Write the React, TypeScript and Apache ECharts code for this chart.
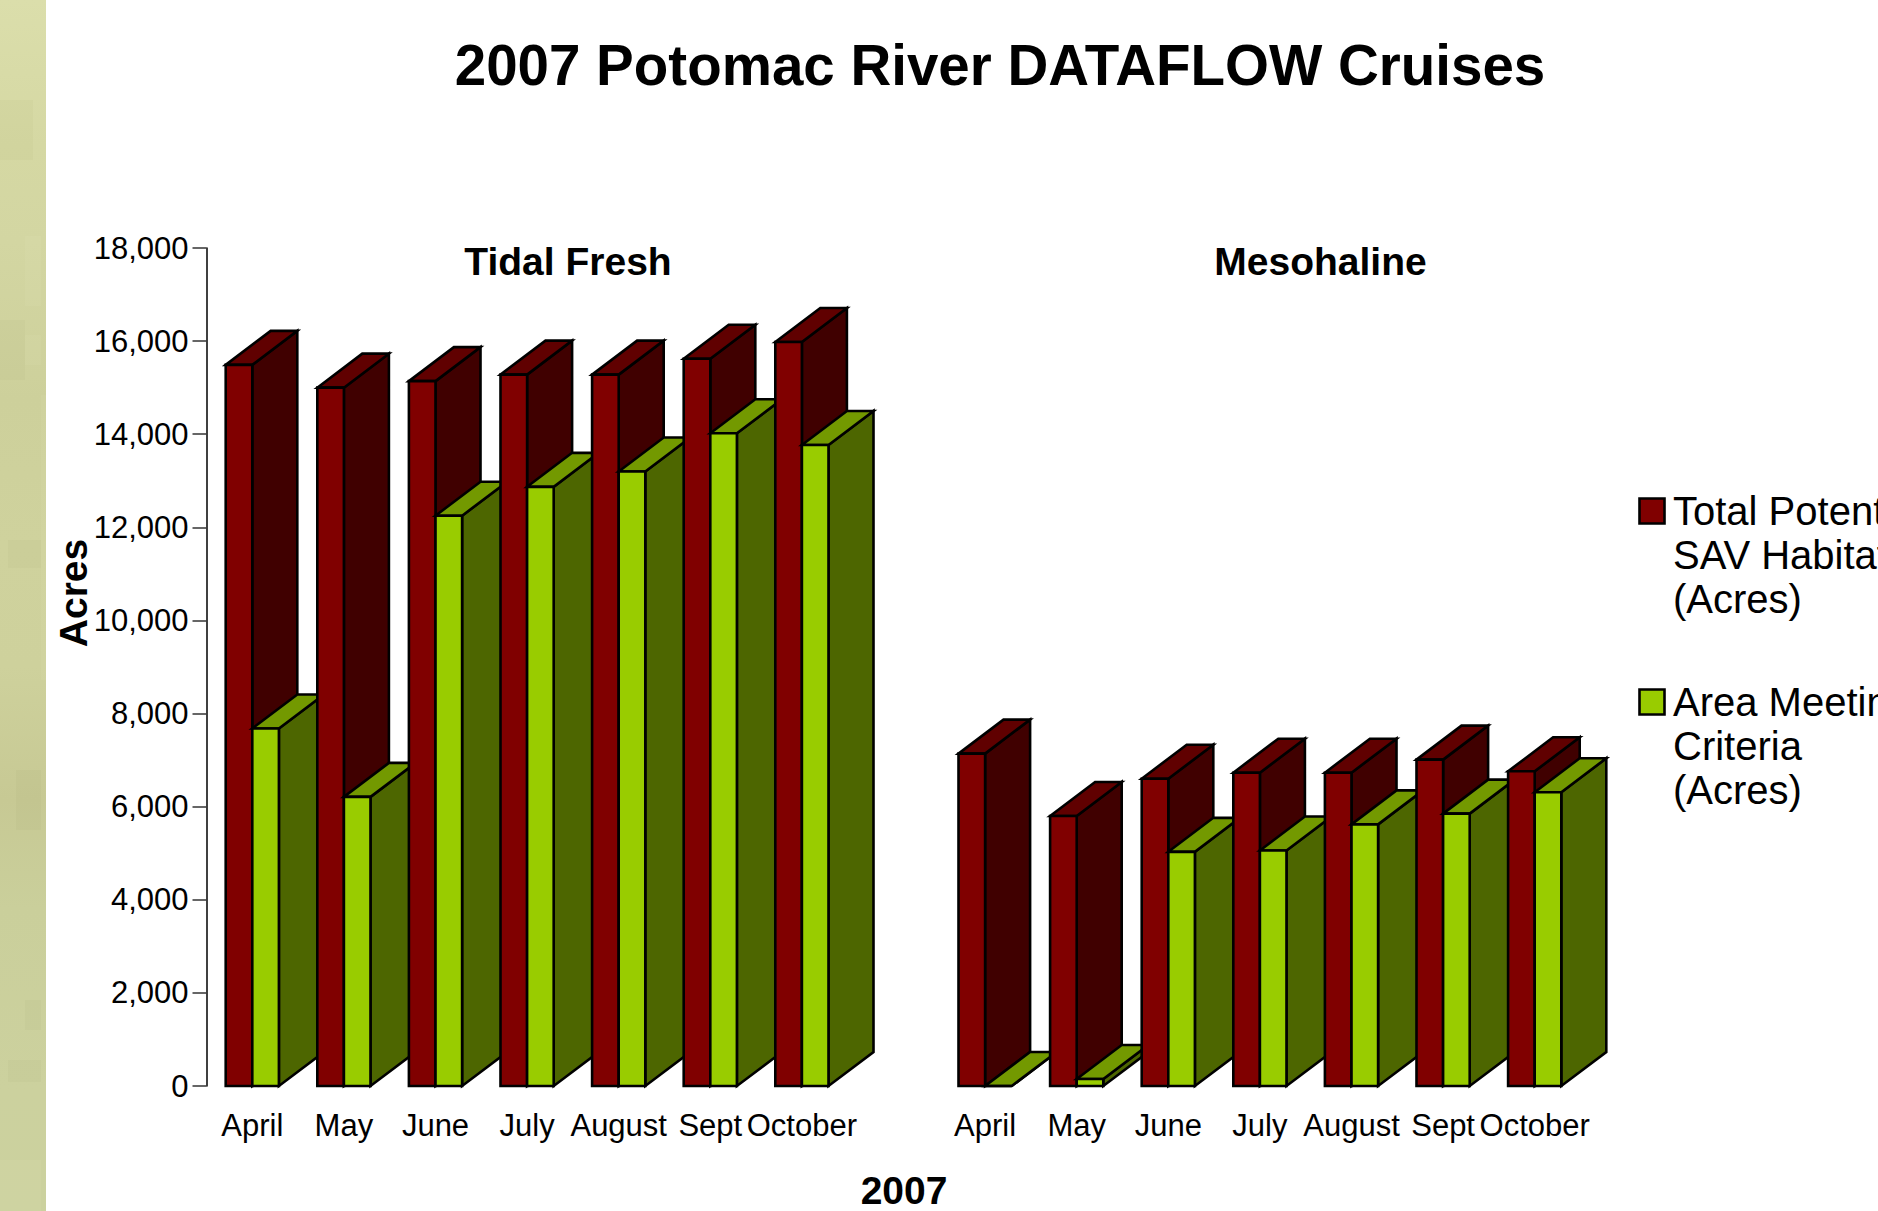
import React, { useEffect, useRef } from "react";
import * as echarts from "echarts";

const months = ["April", "May", "June", "July", "August", "Sept", "October"];
const categories = [...months, "", ...months];
const tickLabelsNote = "2007";

const tidalTotal = [15490, 15000, 15140, 15280, 15280, 15620, 15980];
const tidalMeeting = [7680, 6210, 12250, 12870, 13200, 14020, 13770];
const mesoTotal = [7140, 5800, 6600, 6730, 6730, 7010, 6760];
const mesoMeeting = [0, 150, 5030, 5060, 5620, 5850, 6310];

const totalName = "Total Potential SAV Habitat (Acres)";
const meetingName = "Area Meeting Criteria (Acres)";

const FONT = "'Liberation Sans', Arial, sans-serif";
const BAR_W = 26.6;
const DX = 45;
const DY = 34;

const toRows = (a: number[], b: number[]) => [
  ...a.map((v, i) => [i, v]),
  ...b.map((v, i) => [i + a.length + 1, v]),
];

function bar3d(side: number, front: string, top: string, dark: string) {
  return (params: any, api: any) => {
    const cat = api.value(0);
    const p = api.coord([cat, api.value(1)]);
    const b = api.coord([cat, 0]);
    const x0 = side === 0 ? p[0] - BAR_W : p[0];
    const x1 = x0 + BAR_W;
    const yT = p[1];
    const yB = b[1];
    const z2 = cat * 10 + side * 4;
    const style = { stroke: "#000", lineWidth: 2.6, lineJoin: "miter" };
    const poly = (points: number[][], fill: string, z: number) => ({
      type: "polygon",
      z2: z,
      shape: { points },
      style: { ...style, fill },
    });
    return {
      type: "group",
      children: [
        poly(
          [[x1, yT], [x1 + DX, yT - DY], [x1 + DX, yB - DY], [x1, yB]],
          dark,
          z2
        ),
        poly(
          [[x0, yT], [x0 + DX, yT - DY], [x1 + DX, yT - DY], [x1, yT]],
          top,
          z2 + 1
        ),
        poly([[x0, yT], [x1, yT], [x1, yB], [x0, yB]], front, z2 + 2),
      ],
    };
  };
}

const legendEntry = (y: number, fill: string, lines: string) => [
  {
    type: "rect",
    shape: { x: 1639.5, y, width: 25, height: 25 },
    style: { fill, stroke: "#000", lineWidth: 2.6 },
  },
  {
    type: "text",
    x: 1673,
    y: y - 10,
    style: {
      text: lines,
      fill: "#000",
      font: `40px ${FONT}`,
      lineHeight: 44,
      textAlign: "left",
      textVerticalAlign: "top",
    },
  },
];

// Mottling of the decorative strip: x, y, width, height, colour
const stripPatch = (x: number, y: number, width: number, height: number, fill: string) => ({
  type: "rect",
  silent: true,
  shape: { x, y, width, height },
  style: { fill },
});

export default function App() {
  const ref = useRef<HTMLDivElement>(null);

  useEffect(() => {
    document.body.style.margin = "0";
    document.body.style.overflow = "hidden";
    const chart = echarts.init(ref.current!, undefined, { renderer: "svg" });
    const dark = "rgba(90,90,30,0.03)";
    const light = "rgba(255,255,220,0.06)";
    chart.setOption({
      animation: false,
      backgroundColor: "#ffffff",
      title: [
        {
          text: "2007 Potomac River DATAFLOW Cruises",
          left: 995,
          top: 32,
          textAlign: "center",
          textStyle: { fontFamily: FONT, fontWeight: "bold", fontSize: 56.5, color: "#000" },
        },
        {
          text: "Tidal Fresh",
          left: 563,
          top: 237,
          textAlign: "center",
          textStyle: { fontFamily: FONT, fontWeight: "bold", fontSize: 39, color: "#000" },
        },
        {
          text: "Mesohaline",
          left: 1315.5,
          top: 237,
          textAlign: "center",
          textStyle: { fontFamily: FONT, fontWeight: "bold", fontSize: 39, color: "#000" },
        },
      ],
      grid: {
        left: 206.5,
        top: 248,
        width: 1374,
        height: 838,
        containLabel: false,
        outerBoundsMode: "none",
      },
      xAxis: {
        type: "category",
        data: categories,
        boundaryGap: true,
        axisLine: { show: false },
        axisTick: { show: false },
        axisLabel: {
          interval: 0,
          hideOverlap: false,
          margin: 24,
          fontFamily: FONT,
          fontSize: 31,
          color: "#000",
        },
        name: tickLabelsNote,
        nameLocation: "middle",
        nameGap: 85,
        nameTextStyle: {
          fontFamily: FONT,
          fontWeight: "bold",
          fontSize: 39,
          color: "#000",
          padding: [0, 0, 0, 21],
        },
      },
      yAxis: {
        type: "value",
        min: 0,
        max: 18000,
        interval: 2000,
        splitLine: { show: false },
        axisLine: { show: true, onZero: false, lineStyle: { color: "#000", width: 1.5 } },
        axisTick: { show: true, length: 14, lineStyle: { color: "#333", width: 1.5 } },
        axisLabel: {
          margin: 18,
          fontFamily: FONT,
          fontSize: 31,
          color: "#000",
          formatter: (v: number) => v.toLocaleString("en-US"),
        },
        name: "Acres",
        nameLocation: "middle",
        nameRotate: 90,
        nameGap: 113.6,
        nameMoveOverlap: false,
        nameTextStyle: {
          fontFamily: FONT,
          fontWeight: "bold",
          fontSize: 39,
          color: "#000",
          padding: [0, 0, 0, 148],
        },
      },
      graphic: [
        {
          type: "rect",
          silent: true,
          shape: { x: 0, y: 0, width: 46, height: 1211 },
          style: {
            fill: new echarts.graphic.LinearGradient(0, 0, 0, 1, [
              { offset: 0, color: "#dbdeab" },
              { offset: 0.12, color: "#d5d8a3" },
              { offset: 0.2, color: "#d3d6a2" },
              { offset: 0.33, color: "#cdd09b" },
              { offset: 0.45, color: "#cfd29d" },
              { offset: 0.55, color: "#ced19c" },
              { offset: 0.66, color: "#c7c994" },
              { offset: 0.75, color: "#cacf9b" },
              { offset: 0.9, color: "#ccd19e" },
              { offset: 1, color: "#cbd19e" },
            ]),
          },
        },
        stripPatch(0, 100, 33, 60, dark),
        stripPatch(25, 236, 16, 70, light),
        stripPatch(0, 320, 25, 60, dark),
        stripPatch(25, 335, 16, 30, light),
        stripPatch(8, 540, 33, 28, dark),
        stripPatch(16, 770, 25, 60, dark),
        stripPatch(41, 395, 5, 285, light),
        stripPatch(25, 1000, 16, 30, dark),
        stripPatch(8, 1060, 33, 22, dark),
        stripPatch(0, 1160, 41, 51, light),
        ...legendEntry(498.5, "#800000", "Total Potential\nSAV Habitat\n(Acres)"),
        ...legendEntry(689.5, "#99CC00", "Area Meeting\nCriteria\n(Acres)"),
      ],
      series: [
        {
          type: "custom",
          name: totalName,
          clip: false,
          encode: { x: 0, y: 1 },
          renderItem: bar3d(0, "#800000", "#600000", "#400000"),
          data: toRows(tidalTotal, mesoTotal),
        },
        {
          type: "custom",
          name: meetingName,
          clip: false,
          encode: { x: 0, y: 1 },
          renderItem: bar3d(1, "#99CC00", "#739900", "#4D6600"),
          data: toRows(tidalMeeting, mesoMeeting),
        },
      ],
    });
    return () => chart.dispose();
  }, []);

  return <div ref={ref} style={{ width: 1878, height: 1211 }} />;
}
